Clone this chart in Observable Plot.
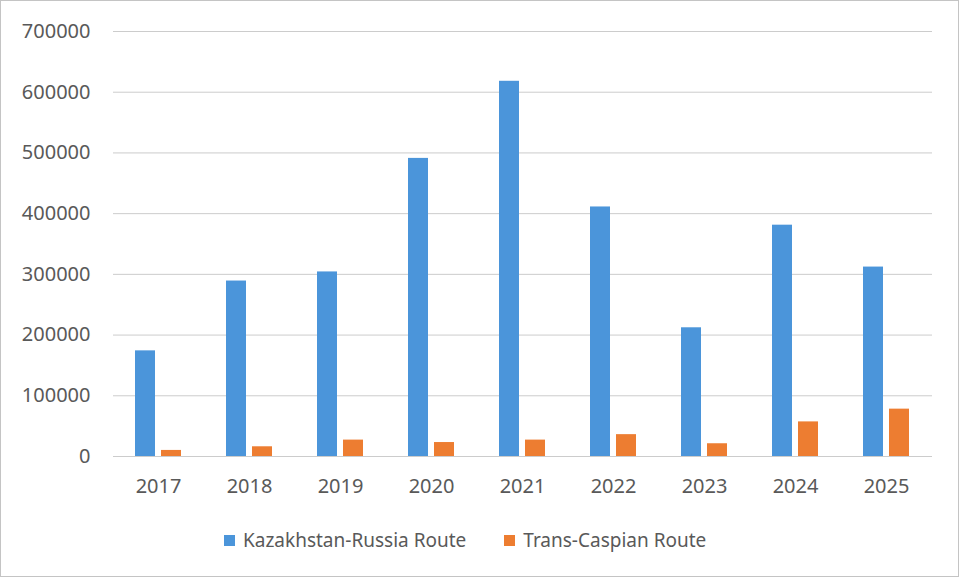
<!DOCTYPE html>
<html>
<head>
<meta charset="utf-8">
<script src="https://cdn.jsdelivr.net/npm/d3@7"></script>
<script src="https://cdn.jsdelivr.net/npm/@observablehq/plot@0.6"></script>
<style>
  html, body { margin: 0; padding: 0; background: #fff; }
  #frame { position: absolute; left: 0; top: 0; width: 959px; height: 577px; box-sizing: border-box; border: 1px solid #c4c4c4; }
  #chart { position: absolute; left: 0; top: 0; }
  #legend { position: absolute; left: 224px; top: 527px; display: flex; align-items: center; font-family: "Noto Sans", sans-serif; font-size: 19px; color: #595959; }
  .item { display: flex; align-items: center; margin-right: 38px; }
  .sw { width: 11px; height: 11px; margin-right: 8px; }
</style>
</head>
<body>
<div id="frame"></div>
<div id="chart"></div>
<div id="legend"></div>
<script>
const years = ["2017", "2018", "2019", "2020", "2021", "2022", "2023", "2024", "2025"];
const kazakhstanRussia = [174000, 289000, 304000, 491000, 618000, 411000, 212000, 381000, 312000];
const transCaspian = [10000, 16000, 27000, 23000, 27000, 36000, 21000, 57000, 78000];
const seriesNames = ["Kazakhstan-Russia Route", "Trans-Caspian Route"];
const seriesColors = ["#4B95DA", "#ED7D31"];
const yTicks = [0, 100000, 200000, 300000, 400000, 500000, 600000, 700000];

const kr = years.map((y, i) => ({year: y, value: kazakhstanRussia[i]}));
const tc = years.map((y, i) => ({year: y, value: transCaspian[i]}));

const chart = Plot.plot({
  width: 963,
  height: 512,
  marginLeft: 113,
  marginRight: 31,
  marginTop: 31,
  marginBottom: 56,
  style: {fontFamily: "Noto Sans, sans-serif", fontSize: "20px", color: "#595959", background: "transparent"},
  x: {domain: years, paddingInner: 0.78, paddingOuter: 0.39, axis: null},
  y: {domain: [0, 700000], axis: null},
  marks: [
    Plot.gridY(yTicks, {stroke: "#cccccc", strokeOpacity: 1, strokeWidth: 1}),
    Plot.barY(kr, {x: "year", y: "value", fill: seriesColors[0], dx: -13}),
    Plot.barY(tc, {x: "year", y: "value", fill: seriesColors[1], dx: 13}),
    Plot.axisY(yTicks, {tickSize: 0, tickPadding: 23, tickFormat: d => String(d), fill: "#595959", fontSize: 20, label: null}),
    Plot.axisX({tickSize: 0, tickPadding: 22, fill: "#595959", fontSize: 20, label: null})
  ]
});
document.getElementById("chart").appendChild(chart);

const legend = document.getElementById("legend");
seriesNames.forEach((name, i) => {
  const item = document.createElement("div");
  item.className = "item";
  const sw = document.createElement("div");
  sw.className = "sw";
  sw.style.background = seriesColors[i];
  const label = document.createElement("span");
  label.textContent = name;
  item.appendChild(sw);
  item.appendChild(label);
  legend.appendChild(item);
});
</script>
</body>
</html>
